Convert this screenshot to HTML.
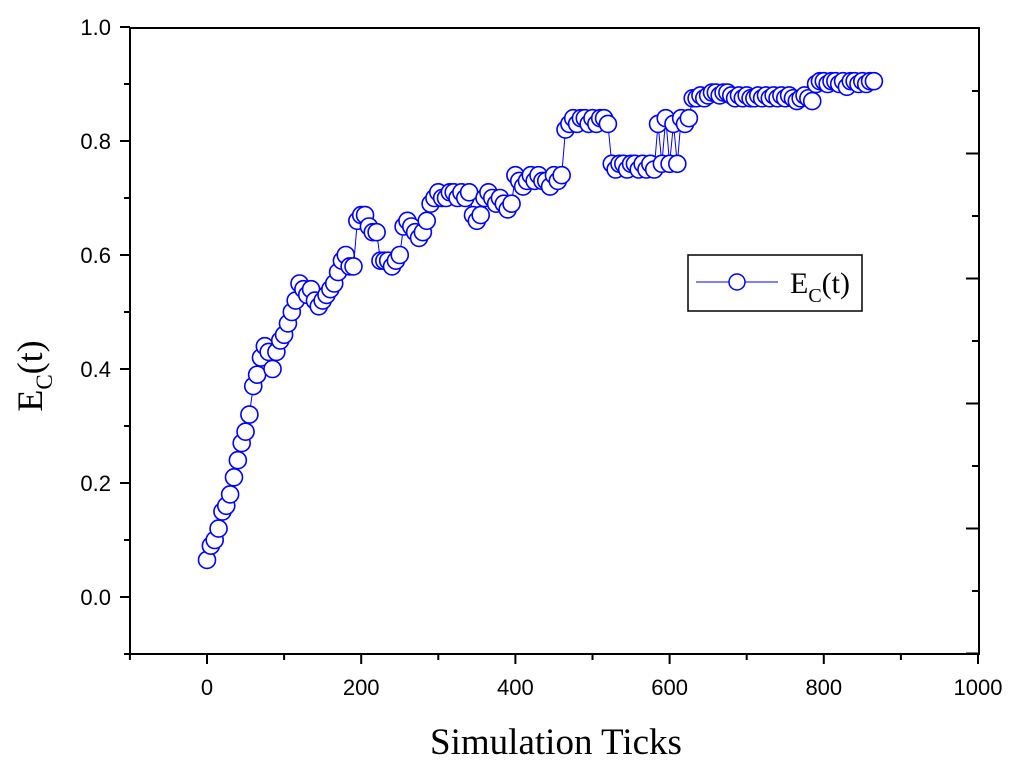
<!DOCTYPE html>
<html><head><meta charset="utf-8"><style>
html,body{margin:0;padding:0;background:#fff;}
svg text{font-family:"Liberation Sans",Arial,sans-serif;}
</style></head><body>
<svg id="chart" width="1024" height="771" viewBox="0 0 1024 771" xmlns="http://www.w3.org/2000/svg">
<rect x="0" y="0" width="1024" height="771" fill="#fff"/>
<g id="axes"></g>
<g id="series"></g>
<rect x="130" y="28" width="849" height="626" fill="none" stroke="#000" stroke-width="2"/>
<g>
<rect x="688" y="255" width="174" height="56" fill="#fff" stroke="#000" stroke-width="1.5"/>
<line x1="696" y1="282" x2="778" y2="282" stroke="#0000ff" stroke-width="1"/>
<circle cx="737" cy="282" r="8" fill="#fff" stroke="#0000ff" stroke-width="1.5"/>
<text x="790" y="293" font-size="30" style="font-family:'Liberation Serif',serif">E<tspan font-size="20" dy="9">C</tspan><tspan dy="-9">(t)</tspan></text>
</g>
<text x="556" y="754" font-size="37" text-anchor="middle" style="font-family:'Liberation Serif',serif">Simulation Ticks</text>
<text transform="translate(42,376) rotate(-90)" font-size="36" text-anchor="middle" style="font-family:'Liberation Serif',serif">E<tspan font-size="23" dy="10">C</tspan><tspan dy="-10">(t)</tspan></text>
</svg>
<script>
const xTickLabels = [0, 200, 400, 600, 800, 1000];
const yTickLabels = ["0.0", "0.2", "0.4", "0.6", "0.8", "1.0"];
const ticks = [0,5,10,15,20,25,30,35,40,45,50,55,60,65,70,75,80,85,90,95,100,105,110,115,120,125,130,135,140,145,150,155,160,165,170,175,180,185,190,195,200,205,210,215,220,225,230,235,240,245,250,255,260,265,270,275,280,285,290,295,300,305,310,315,320,325,330,335,340,345,350,355,360,365,370,375,380,385,390,395,400,405,410,415,420,425,430,435,440,445,450,455,460,465,470,475,480,485,490,495,500,505,510,515,520,525,530,535,540,545,550,555,560,565,570,575,580,585,590,595,600,605,610,615,620,625,630,635,640,645,650,655,660,665,670,675,680,685,690,695,700,705,710,715,720,725,730,735,740,745,750,755,760,765,770,775,780,785,790,795,800,805,810,815,820,825,830,835,840,845,850,855,860,865,870];
const ecValues = [0.065,0.09,0.10,0.12,0.15,0.16,0.18,0.21,0.24,0.27,0.29,0.32,0.37,0.39,0.42,0.44,0.43,0.40,0.43,0.45,0.46,0.48,0.50,0.52,0.55,0.54,0.53,0.54,0.52,0.51,0.52,0.53,0.54,0.55,0.57,0.59,0.60,0.58,0.58,0.66,0.67,0.67,0.65,0.64,0.64,0.59,0.59,0.59,0.58,0.59,0.60,0.65,0.66,0.65,0.64,0.63,0.64,0.66,0.69,0.70,0.71,0.70,0.70,0.71,0.71,0.70,0.71,0.70,0.71,0.67,0.66,0.67,0.70,0.71,0.70,0.69,0.70,0.69,0.68,0.69,0.74,0.73,0.72,0.73,0.74,0.73,0.74,0.73,0.73,0.72,0.74,0.73,0.74,0.82,0.83,0.84,0.83,0.84,0.84,0.83,0.84,0.83,0.84,0.84,0.83,0.76,0.75,0.76,0.76,0.75,0.76,0.76,0.75,0.76,0.75,0.76,0.75,0.83,0.76,0.84,0.76,0.83,0.76,0.84,0.83,0.84,0.875,0.875,0.88,0.875,0.88,0.885,0.885,0.88,0.885,0.885,0.88,0.875,0.88,0.875,0.88,0.875,0.875,0.88,0.875,0.88,0.875,0.88,0.875,0.88,0.875,0.88,0.875,0.87,0.875,0.88,0.875,0.87,0.90,0.905,0.905,0.90,0.905,0.905,0.90,0.905,0.895,0.905,0.905,0.90,0.905,0.90,0.905,0.905];
const NS='http://www.w3.org/2000/svg';
function xs(v){return 207 + v*0.771;}
function ys(v){return 597 - v*570;}
function mk(tag,attrs,parent){const e=document.createElementNS(NS,tag);for(const k in attrs)e.setAttribute(k,attrs[k]);parent.appendChild(e);return e;}
const axes=document.getElementById('axes');
for(let v=-100;v<=1000;v+=100){
  const major=(v%200===0);
  const t=mk('line',{x1:xs(v),x2:xs(v),y1:654,y2:major?664:660,stroke:'#000','stroke-width':2},axes);
  
  
}
xTickLabels.forEach(v=>{
  const t=mk('text',{x:xs(v),y:695,'font-size':22,'text-anchor':'middle'},axes);
  t.textContent=v;
  
  
});
for(let i=-1;i<=10;i++){
  const v=i/10, major=(i%2===0);
  const t=mk('line',{x1:major?120:124,x2:130,y1:ys(v),y2:ys(v),stroke:'#000','stroke-width':2},axes);
  
  
}
yTickLabels.forEach(s=>{
  const t=mk('text',{x:111,y:ys(parseFloat(s))+8,'font-size':22,'text-anchor':'end'},axes);
  t.textContent=s;
  
  
});
for(let i=0;i<10;i++){
  const y=91+i*62.5, major=(i%2===1);
  const t=mk('line',{x1:major?966:972,x2:979,y1:y,y2:y,stroke:'#000','stroke-width':2},axes);
  
  
}
const g=document.getElementById('series');
const n=Math.min(ticks.length, ecValues.length);
const pts=[];
for(let i=0;i<n;i++) pts.push(xs(ticks[i])+','+ys(ecValues[i]));
const pl=mk('polyline',{points:pts.join(' '),fill:'none',stroke:'#0000ff','stroke-width':1},g);


for(let i=0;i<n;i++){
  const c=mk('circle',{cx:xs(ticks[i]),cy:ys(ecValues[i]),r:8.5,fill:'#fff',stroke:'#0000ff','stroke-width':1.6},g);
  
  
}
</script>
</body></html>
